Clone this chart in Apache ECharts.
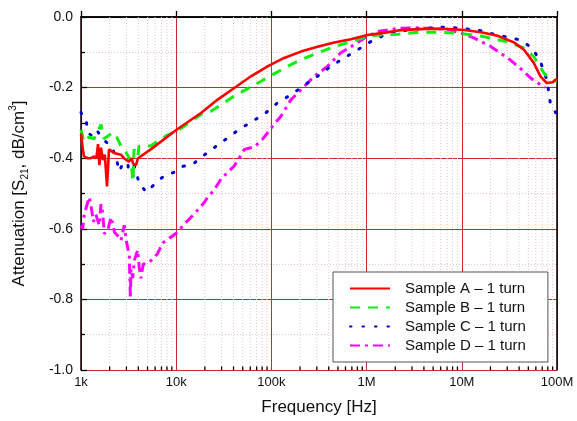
<!DOCTYPE html>
<html>
<head>
<meta charset="utf-8">
<script src="https://cdn.jsdelivr.net/npm/echarts@6/dist/echarts.min.js"></script>
<style>
  html, body { margin: 0; padding: 0; background: #fff; }
  #chart { width: 577px; height: 421px; }
</style>
</head>
<body>
<div id="chart"></div>
<script>
var names = ['Sample A \u2013 1 turn', 'Sample B \u2013 1 turn', 'Sample C \u2013 1 turn', 'Sample D \u2013 1 turn'];
var freqLabels = { 1e3: '1k', 1e4: '10k', 1e5: '100k', 1e6: '1M', 1e7: '10M', 1e8: '100M' };

// [frequency Hz, attenuation]
var sampleA = [[1000,-0.33],[1040,-0.37],[1075,-0.395],[1180,-0.40],[1270,-0.40],[1370,-0.395],[1450,-0.40],[1510,-0.36],[1560,-0.42],[1620,-0.37],[1700,-0.405],[1780,-0.39],[1875,-0.48],[1970,-0.375],[2220,-0.385],[2630,-0.39],[2830,-0.40],[3190,-0.41],[3400,-0.40],[3520,-0.415],[3780,-0.42],[3970,-0.40],[5400,-0.375],[10000,-0.32],[18200,-0.272],[27300,-0.234],[40700,-0.201],[61000,-0.168],[91000,-0.140],[136000,-0.116],[204000,-0.098],[305000,-0.084],[457000,-0.072],[684000,-0.063],[1020000,-0.051],[1500000,-0.045],[2150000,-0.038],[3200000,-0.035],[4750000,-0.033],[7100000,-0.034],[10600000,-0.037],[15900000,-0.043],[23700000,-0.053],[35300000,-0.072],[45000000,-0.093],[57000000,-0.130],[67000000,-0.168],[78000000,-0.187],[90000000,-0.185],[100000000,-0.175]];

var sampleB = [[1000,-0.32],[1075,-0.355],[1213,-0.34],[1370,-0.345],[1622,-0.305],[1745,-0.345],[2170,-0.327],[2330,-0.335],[2630,-0.366],[2970,-0.383],[3350,-0.41],[3520,-0.465],[3610,-0.375],[3966,-0.395],[4060,-0.366],[5400,-0.365],[8000,-0.335],[10000,-0.325],[18200,-0.276],[23200,-0.267],[40700,-0.224],[77900,-0.182],[136000,-0.145],[204000,-0.121],[305000,-0.102],[457000,-0.084],[684000,-0.070],[1020000,-0.055],[1500000,-0.050],[2150000,-0.049],[3200000,-0.044],[6000000,-0.043],[8900000,-0.046],[15900000,-0.054],[30000000,-0.070],[45000000,-0.088],[57000000,-0.112],[73000000,-0.159],[85000000,-0.177],[100000000,-0.182]];

var sampleC = [[1000,-0.27],[1050,-0.285],[1128,-0.29],[1184,-0.327],[1274,-0.335],[1437,-0.318],[1703,-0.346],[2066,-0.366],[2330,-0.394],[2505,-0.437],[2832,-0.41],[3115,-0.42],[3192,-0.44],[3517,-0.453],[3610,-0.42],[4060,-0.468],[4820,-0.496],[6440,-0.465],[7450,-0.45],[9500,-0.44],[11800,-0.423],[15000,-0.417],[18200,-0.398],[25100,-0.370],[33300,-0.346],[46000,-0.318],[63900,-0.295],[87800,-0.271],[116000,-0.243],[161000,-0.220],[220000,-0.194],[305000,-0.168],[420000,-0.140],[580000,-0.116],[805000,-0.093],[1100000,-0.070],[1550000,-0.051],[2200000,-0.041],[3000000,-0.035],[4300000,-0.032],[5800000,-0.029],[8000000,-0.030],[11500000,-0.034],[15900000,-0.039],[21800000,-0.049],[30000000,-0.057],[41000000,-0.065],[55000000,-0.088],[67000000,-0.126],[78000000,-0.177],[81000000,-0.204],[85000000,-0.243],[97000000,-0.271]];

var sampleD = [[1000,-0.59],[1041,-0.60],[1084,-0.558],[1222,-0.51],[1274,-0.535],[1350,-0.58],[1437,-0.56],[1556,-0.59],[1622,-0.53],[1690,-0.555],[1757,-0.614],[1907,-0.605],[2066,-0.567],[2151,-0.585],[2250,-0.61],[2430,-0.62],[2630,-0.633],[2850,-0.59],[2970,-0.63],[3214,-0.675],[3300,-0.797],[3350,-0.713],[3490,-0.74],[3630,-0.69],[3940,-0.66],[4090,-0.71],[4270,-0.74],[4500,-0.70],[4820,-0.70],[5440,-0.69],[6380,-0.67],[7210,-0.64],[8840,-0.623],[10300,-0.61],[12200,-0.586],[15500,-0.558],[19800,-0.525],[21300,-0.511],[25100,-0.49],[29500,-0.459],[40700,-0.422],[52100,-0.375],[66300,-0.368],[80800,-0.346],[91300,-0.328],[103000,-0.309],[126000,-0.281],[161000,-0.234],[204000,-0.206],[282000,-0.168],[388000,-0.140],[533000,-0.102],[684000,-0.084],[945000,-0.060],[1300000,-0.041],[1800000,-0.035],[2300000,-0.032],[3200000,-0.031],[4750000,-0.032],[7100000,-0.035],[9900000,-0.046],[13600000,-0.060],[20300000,-0.084],[32000000,-0.121],[41000000,-0.145],[53000000,-0.173],[63000000,-0.187],[75000000,-0.20]];

// minor log positions 2..9 in every decade
var minorFreqs = [];
for (var d = 1e3; d < 1e8; d *= 10) {
  for (var m = 2; m <= 9; m++) minorFreqs.push([m * d, 0]);
}

var font = 'Arial, "Liberation Sans", sans-serif';
var chart = echarts.init(document.getElementById('chart'));

function renderMinor(params, api) {
  var f = api.value(0);
  var top = api.coord([f, 0]);
  var bot = api.coord([f, -1]);
  return {
    type: 'group',
    children: [
      { type: 'line', shape: { x1: top[0], y1: top[1], x2: top[0], y2: bot[1] },
        style: { stroke: '#e6c6c6', lineWidth: 1, lineDash: [1, 2] } },
      { type: 'line', shape: { x1: top[0], y1: bot[1], x2: top[0], y2: bot[1] - 3.5 },
        style: { stroke: '#000', lineWidth: 1.3 } }
    ]
  };
}

var option = {
  animation: false,
  backgroundColor: '#fff',
  textStyle: { fontFamily: font },
  grid: { left: 80, right: 20, top: 17, bottom: 49 },
  legend: {
    orient: 'vertical',
    left: 333,
    top: 272,
    padding: [9, 22, 9, 16],
    itemWidth: 40,
    itemHeight: 15,
    itemGap: 4,
    backgroundColor: '#fff',
    borderColor: '#555',
    borderWidth: 1,
    borderRadius: 0,
    itemStyle: { opacity: 0 },
    textStyle: { fontSize: 15, color: '#111', fontFamily: font, padding: [0, 0, 0, 10] },
    data: names
  },
  xAxis: [{
    type: 'log',
    logBase: 10,
    min: 1e3,
    max: 1e8,
    name: 'Frequency [Hz]',
    nameLocation: 'middle',
    nameGap: 29,
    nameTextStyle: { fontSize: 17, color: '#111' },
    axisLine: { lineStyle: { color: '#000', width: 1.5 } },
    axisTick: { inside: true, length: 6, lineStyle: { color: '#000', width: 1.3 } },
    axisLabel: { fontSize: 13, color: '#111', margin: 6,
      formatter: function (v) { return freqLabels[Math.round(v)] || ''; } },
    splitLine: { show: true, lineStyle: { color: '#cc2a2a', width: 1 } }
  }, {
    type: 'log', logBase: 10, min: 1e3, max: 1e8, position: 'top',
    axisLine: { lineStyle: { color: '#000', width: 1.5 } },
    axisTick: { show: false }, axisLabel: { show: false }, splitLine: { show: false }
  }],
  yAxis: [{
    type: 'value',
    min: -1,
    max: 0,
    interval: 0.2,
    name: '{n|Attenuation [S}{sub|21}{n|, dB/cm}{sup|3}{n|]}',
    nameLocation: 'middle',
    nameGap: 51,
    nameTextStyle: {
      rich: {
        n: { fontSize: 17, color: '#111', fontFamily: font, lineHeight: 22 },
        sub: { fontSize: 10, color: '#111', fontFamily: font, verticalAlign: 'bottom', lineHeight: 22, padding: [6, 0, 0, 0] },
        sup: { fontSize: 10, color: '#111', fontFamily: font, verticalAlign: 'top', lineHeight: 22, padding: [0, 0, 8, 0] }
      }
    },
    axisLine: { show: true, lineStyle: { color: '#000', width: 1.5 } },
    axisTick: { show: true, inside: true, length: 6, lineStyle: { color: '#000', width: 1.3 } },
    minorTick: { show: true, splitNumber: 2, length: 4, lineStyle: { color: '#000', width: 1.3 } },
    axisLabel: { fontSize: 14, color: '#111', margin: 8,
      formatter: function (v) { return Math.abs(v) < 1e-9 ? '0.0' : v.toFixed(1); } },
    splitLine: { show: true, lineStyle: { color: '#cc2a2a', width: 1 } },
    minorSplitLine: { show: true, lineStyle: { color: '#e6c6c6', width: 1, type: [1, 2] } }
  }, {
    type: 'value', min: -1, max: 0, position: 'right',
    axisLine: { show: true, lineStyle: { color: '#000', width: 1.5 } },
    axisTick: { show: false }, axisLabel: { show: false }, splitLine: { show: false }
  }],
  series: [{
    type: 'custom',
    silent: true,
    z: 1,
    renderItem: renderMinor,
    encode: { x: 0, y: 1 },
    data: minorFreqs
  }, {
    name: names[0], type: 'line', z: 6, symbol: 'none', data: sampleA,
    itemStyle: { color: '#ff0000' },
    lineStyle: { color: '#ff0000', width: 2.6 }
  }, {
    name: names[1], type: 'line', z: 5, symbol: 'none', data: sampleB,
    itemStyle: { color: '#11ee11' },
    lineStyle: { color: '#11ee11', width: 3, type: [10, 8] }
  }, {
    name: names[2], type: 'line', z: 4, symbol: 'none', data: sampleC,
    itemStyle: { color: '#0000cc' },
    lineStyle: { color: '#0000cc', width: 3, type: [1.5, 11], cap: 'round' }
  }, {
    name: names[3], type: 'line', z: 3, symbol: 'none', data: sampleD,
    itemStyle: { color: '#ff00ff' },
    lineStyle: { color: '#ff00ff', width: 3, type: [10, 5, 3, 5] }
  }]
};
chart.setOption(option);
</script>
</body>
</html>
